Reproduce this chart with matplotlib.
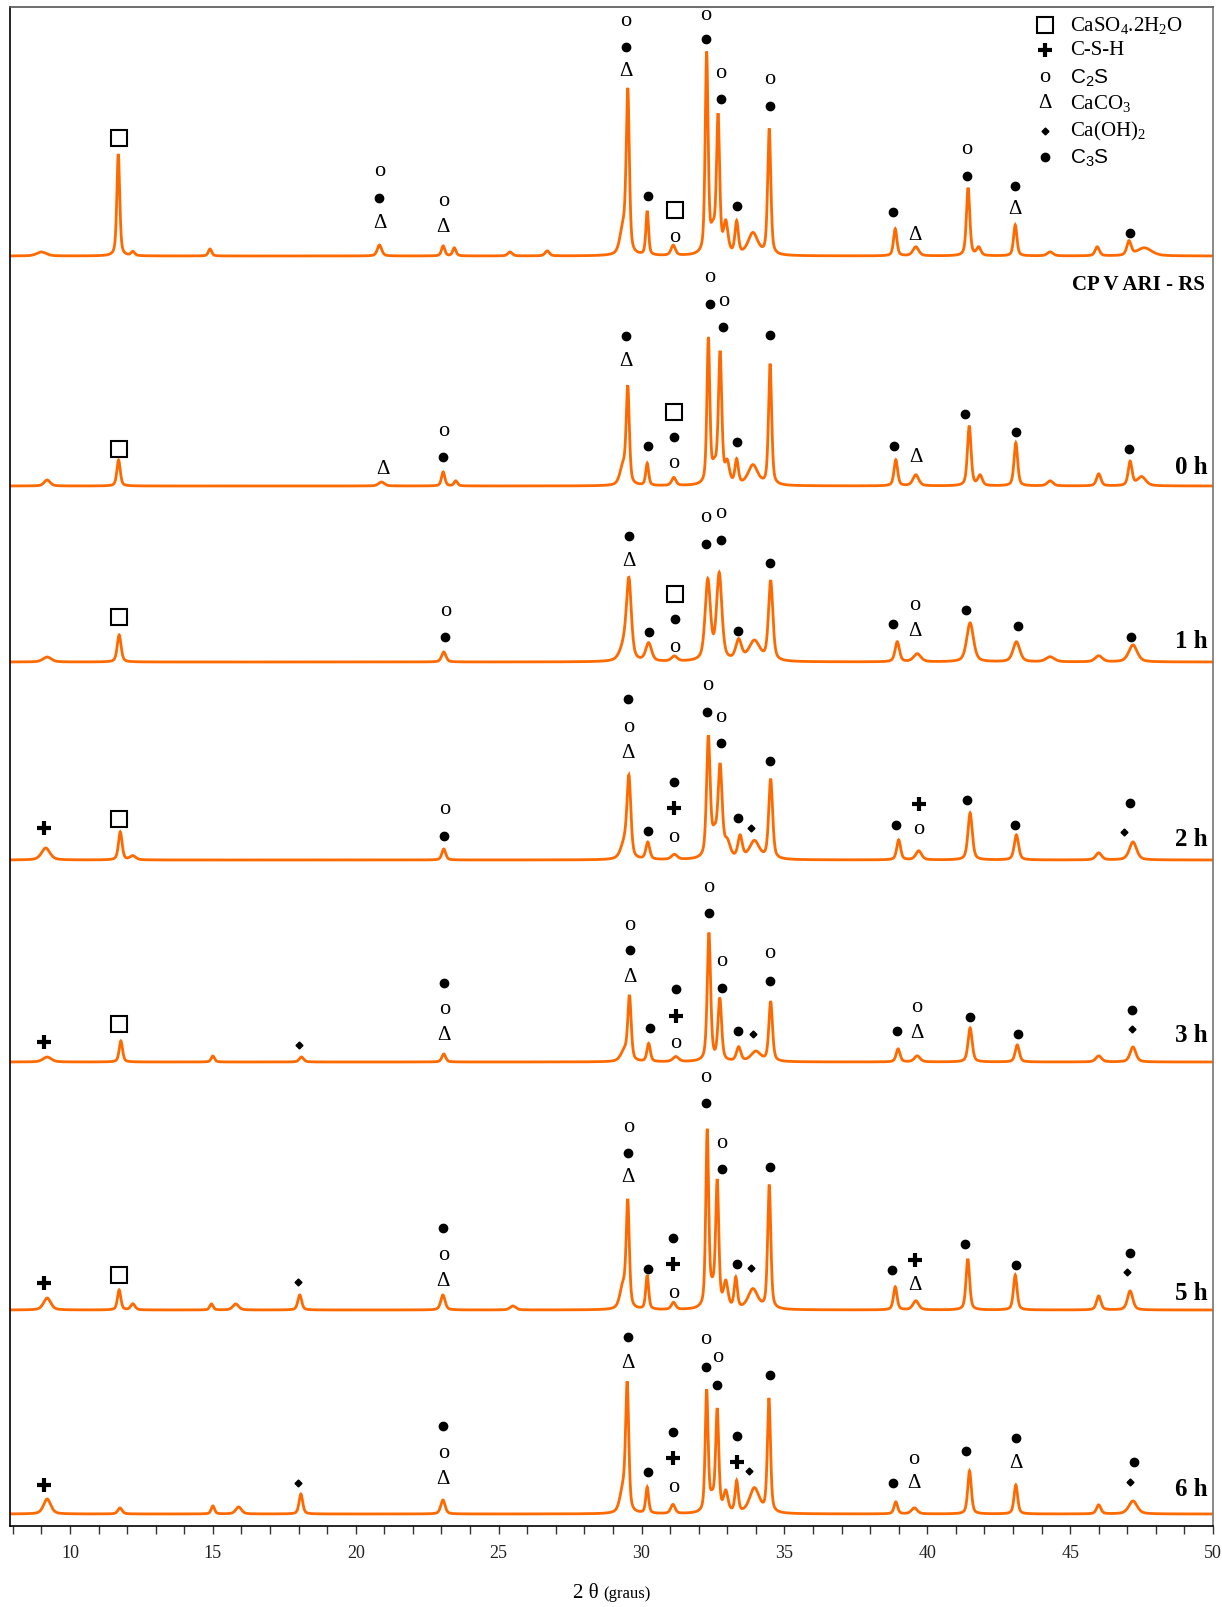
import numpy as np
import matplotlib
matplotlib.use("Agg")
import matplotlib.pyplot as plt

plt.rcParams['mathtext.fontset'] = 'custom'
plt.rcParams['mathtext.rm'] = 'Liberation Serif'
plt.rcParams['mathtext.it'] = 'Liberation Serif:italic'
plt.rcParams['mathtext.bf'] = 'Liberation Serif:bold'
plt.rcParams['mathtext.sf'] = 'Liberation Sans'

SERIF = 'Liberation Serif'
SANS = 'Liberation Sans'

# ---------------- data ----------------
# stacked pattern labels (top to bottom) and vertical offsets (a.u.)
trace_labels = ["CP V ARI - RS", "0 h", "1 h", "2 h", "3 h", "5 h", "6 h"]
offsets = [1270, 1040, 864, 666, 464, 216, 12]

# peaks: (2theta, height a.u., FWHM deg)
peaks_ref = [(9.0, 4, 0.4), (11.69, 102, 0.12), (12.2, 4, 0.15), (14.9, 7, 0.14),
             (20.83, 11, 0.18), (23.06, 10, 0.14), (23.45, 8, 0.14), (25.4, 4, 0.18),
             (26.7, 5, 0.18), (29.35, 25, 0.25), (29.52, 160, 0.13), (30.2, 44, 0.11),
             (31.11, 10, 0.18), (32.28, 200, 0.12), (32.5, 20, 0.2), (32.68, 135, 0.13),
             (32.95, 30, 0.18), (33.33, 32, 0.14), (33.9, 22, 0.4), (34.47, 126, 0.13),
             (38.88, 27, 0.14), (39.6, 9, 0.24), (41.43, 68, 0.14), (41.8, 8, 0.18),
             (43.08, 31, 0.14), (44.3, 4, 0.24), (45.95, 9, 0.18), (47.06, 14, 0.18),
             (47.6, 8, 0.6)]
peaks_0h = [(9.2, 6, 0.25), (11.7, 26, 0.14), (20.9, 4, 0.24), (23.06, 14, 0.14),
            (23.5, 5, 0.14), (29.35, 18, 0.25), (29.52, 95, 0.13), (30.2, 22, 0.12),
            (31.13, 8, 0.18), (32.34, 145, 0.12), (32.55, 15, 0.2), (32.75, 130, 0.14),
            (33.0, 20, 0.18), (33.33, 24, 0.14), (33.9, 20, 0.4), (34.5, 121, 0.13),
            (38.9, 26, 0.15), (39.6, 11, 0.24), (41.47, 60, 0.15), (41.85, 10, 0.18),
            (43.1, 43, 0.15), (44.3, 5, 0.24), (46.0, 12, 0.18), (47.1, 24, 0.16),
            (47.5, 9, 0.35)]
peaks_1h = [(9.2, 5, 0.35), (11.72, 27, 0.16), (23.08, 10, 0.18), (29.4, 15, 0.35),
            (29.56, 76, 0.2), (30.25, 18, 0.24), (31.15, 5, 0.24), (32.32, 80, 0.22),
            (32.72, 86, 0.22), (33.4, 20, 0.24), (33.95, 20, 0.45), (34.52, 80, 0.18),
            (38.95, 20, 0.18), (39.65, 8, 0.3), (41.5, 39, 0.28), (43.12, 20, 0.28),
            (44.3, 5, 0.35), (46.0, 6, 0.3), (47.2, 17, 0.35)]
peaks_2h = [(9.15, 12, 0.35), (11.76, 28, 0.15), (12.2, 4, 0.24), (23.08, 11, 0.16),
            (29.4, 15, 0.3), (29.56, 78, 0.16), (30.22, 17, 0.16), (31.15, 5, 0.24),
            (32.34, 120, 0.15), (32.55, 20, 0.2), (32.75, 90, 0.17), (33.0, 15, 0.24),
            (33.45, 22, 0.18), (33.95, 18, 0.4), (34.52, 80, 0.16), (39.0, 20, 0.16),
            (39.7, 9, 0.24), (41.5, 47, 0.18), (43.12, 25, 0.18), (46.0, 7, 0.24),
            (47.2, 18, 0.3)]
peaks_3h = [(9.2, 5, 0.35), (11.78, 21, 0.14), (15.0, 6, 0.14), (18.1, 5, 0.18),
            (23.08, 8, 0.16), (29.4, 10, 0.3), (29.58, 63, 0.14), (30.25, 18, 0.14),
            (31.2, 5, 0.24), (32.36, 128, 0.14), (32.74, 62, 0.15), (33.4, 14, 0.18),
            (34.0, 10, 0.4), (34.52, 60, 0.15), (38.98, 13, 0.16), (39.65, 6, 0.24),
            (41.5, 34, 0.17), (43.15, 17, 0.17), (46.0, 6, 0.24), (47.2, 15, 0.24)]
peaks_5h = [(9.2, 12, 0.3), (11.72, 20, 0.14), (12.2, 6, 0.18), (14.95, 6, 0.14),
            (15.8, 6, 0.24), (18.04, 15, 0.16), (23.05, 15, 0.18), (25.5, 4, 0.24),
            (29.35, 22, 0.25), (29.52, 104, 0.13), (30.2, 34, 0.12), (31.12, 7, 0.18),
            (32.3, 176, 0.12), (32.48, 15, 0.2), (32.65, 124, 0.13), (32.95, 25, 0.18),
            (33.3, 30, 0.13), (33.9, 20, 0.4), (34.47, 124, 0.13), (38.88, 23, 0.15),
            (39.6, 9, 0.24), (41.42, 51, 0.15), (43.08, 35, 0.15), (46.0, 14, 0.18),
            (47.1, 19, 0.22)]
peaks_6h = [(9.2, 15, 0.3), (11.75, 6, 0.18), (15.0, 8, 0.14), (15.9, 7, 0.24),
            (18.08, 20, 0.15), (23.05, 14, 0.18), (29.35, 22, 0.25), (29.5, 124, 0.13),
            (30.2, 26, 0.12), (31.1, 9, 0.18), (32.28, 121, 0.12), (32.47, 12, 0.2),
            (32.65, 101, 0.13), (32.95, 20, 0.18), (33.33, 31, 0.13), (33.95, 25, 0.4),
            (34.46, 114, 0.13), (38.9, 12, 0.15), (39.55, 6, 0.24), (41.48, 43, 0.15),
            (43.1, 29, 0.15), (46.0, 9, 0.18), (47.2, 13, 0.35)]
all_peaks = [peaks_ref, peaks_0h, peaks_1h, peaks_2h, peaks_3h, peaks_5h, peaks_6h]

# phase marks: (2theta, y a.u., symbol)
# sq=CaSO4.2H2O, plus=C-S-H, o=C2S, tri=CaCO3, dia=Ca(OH)2, dot=C3S
marks_ref = [(11.7, 1388, 'sq'), (20.83, 1354, 'o'), (20.83, 1328, 'dot'), (20.83, 1302, 'tri'),
             (23.06, 1324, 'o'), (23.06, 1298, 'tri'),
             (29.46, 1505, 'o'), (29.46, 1479, 'dot'), (29.46, 1454, 'tri'),
             (30.22, 1330, 'dot'), (31.17, 1316, 'sq'), (31.17, 1289, 'o'),
             (32.25, 1511, 'o'), (32.25, 1487, 'dot'), (32.78, 1453, 'o'), (32.78, 1427, 'dot'),
             (33.33, 1320, 'dot'), (34.5, 1446, 'o'), (34.5, 1420, 'dot'),
             (38.8, 1314, 'dot'), (39.56, 1290, 'tri'), (41.39, 1376, 'o'), (41.39, 1350, 'dot'),
             (43.08, 1340, 'dot'), (43.08, 1316, 'tri'), (47.09, 1293, 'dot')]
marks_0h = [(11.7, 1077, 'sq'), (20.94, 1057, 'tri'), (23.06, 1094, 'o'), (23.06, 1069, 'dot'),
            (29.46, 1190, 'dot'), (29.46, 1164, 'tri'), (30.22, 1080, 'dot'),
            (31.13, 1114, 'sq'), (31.13, 1089, 'dot'), (31.13, 1063, 'o'),
            (32.38, 1248, 'o'), (32.38, 1222, 'dot'), (32.86, 1224, 'o'), (32.85, 1199, 'dot'),
            (33.33, 1084, 'dot'), (34.51, 1191, 'dot'), (38.84, 1080, 'dot'), (39.6, 1069, 'tri'),
            (41.32, 1112, 'dot'), (43.1, 1094, 'dot'), (47.06, 1077, 'dot')]
marks_1h = [(11.7, 909, 'sq'), (23.13, 915, 'o'), (23.13, 889, 'dot'),
            (29.55, 990, 'dot'), (29.55, 964, 'tri'), (30.27, 894, 'dot'),
            (31.17, 932, 'sq'), (31.17, 907, 'dot'), (31.17, 879, 'o'),
            (32.26, 1008, 'o'), (32.26, 982, 'dot'), (32.78, 1013, 'o'), (32.78, 986, 'dot'),
            (33.39, 895, 'dot'), (34.51, 963, 'dot'), (38.8, 902, 'dot'),
            (39.56, 920, 'o'), (39.56, 895, 'tri'), (41.35, 916, 'dot'), (43.18, 900, 'dot'),
            (47.13, 889, 'dot')]
marks_2h = [(9.1, 698, 'plus'), (11.7, 707, 'sq'), (23.1, 717, 'o'), (23.1, 690, 'dot'),
            (29.54, 827, 'dot'), (29.54, 799, 'o'), (29.54, 773, 'tri'), (30.23, 695, 'dot'),
            (31.13, 744, 'dot'), (31.13, 718, 'plus'), (31.13, 689, 'o'),
            (32.3, 840, 'o'), (32.3, 814, 'dot'), (32.78, 809, 'o'), (32.78, 783, 'dot'),
            (33.39, 708, 'dot'), (33.82, 698, 'dia'), (34.5, 765, 'dot'),
            (38.92, 701, 'dot'), (39.7, 722, 'plus'), (39.7, 696, 'o'), (41.39, 726, 'dot'),
            (43.08, 701, 'dot'), (46.9, 694, 'dia'), (47.09, 723, 'dot')]
marks_3h = [(9.1, 484, 'plus'), (11.7, 502, 'sq'), (18.0, 481, 'dia'),
            (23.1, 543, 'dot'), (23.1, 516, 'o'), (23.1, 490, 'tri'),
            (29.6, 601, 'o'), (29.6, 576, 'dot'), (29.6, 549, 'tri'), (30.3, 498, 'dot'),
            (31.2, 537, 'dot'), (31.2, 510, 'plus'), (31.2, 483, 'o'),
            (32.36, 639, 'o'), (32.36, 613, 'dot'), (32.8, 564, 'o'), (32.8, 538, 'dot'),
            (33.39, 495, 'dot'), (33.91, 492, 'dia'), (34.5, 572, 'o'), (34.5, 545, 'dot'),
            (38.95, 495, 'dot'), (39.63, 518, 'o'), (39.63, 492, 'tri'), (41.5, 509, 'dot'),
            (43.18, 492, 'dot'), (47.17, 516, 'dot'), (47.17, 497, 'dia')]
marks_5h = [(9.1, 243, 'plus'), (11.7, 251, 'sq'), (17.97, 244, 'dia'),
            (23.06, 298, 'dot'), (23.06, 271, 'o'), (23.06, 245, 'tri'),
            (29.54, 399, 'o'), (29.54, 373, 'dot'), (29.54, 348, 'tri'), (30.22, 257, 'dot'),
            (31.11, 288, 'dot'), (31.11, 262, 'plus'), (31.11, 233, 'o'),
            (32.26, 449, 'o'), (32.26, 423, 'dot'), (32.8, 382, 'o'), (32.8, 357, 'dot'),
            (33.33, 262, 'dot'), (33.82, 258, 'dia'), (34.5, 359, 'dot'),
            (38.77, 256, 'dot'), (39.56, 266, 'plus'), (39.56, 240, 'tri'), (41.32, 282, 'dot'),
            (43.1, 261, 'dot'), (46.99, 254, 'dia'), (47.09, 273, 'dot')]
marks_6h = [(9.1, 41, 'plus'), (17.97, 43, 'dia'),
            (23.06, 100, 'dot'), (23.06, 72, 'o'), (23.06, 47, 'tri'),
            (29.52, 189, 'dot'), (29.52, 163, 'tri'), (30.23, 54, 'dot'),
            (31.11, 94, 'dot'), (31.11, 68, 'plus'), (31.11, 39, 'o'),
            (32.25, 186, 'o'), (32.25, 159, 'dot'), (32.67, 168, 'o'), (32.63, 141, 'dot'),
            (33.33, 90, 'dot'), (33.33, 64, 'plus'), (33.76, 55, 'dia'), (34.5, 151, 'dot'),
            (38.8, 43, 'dot'), (39.52, 66, 'o'), (39.52, 42, 'tri'), (41.35, 75, 'dot'),
            (43.1, 88, 'dot'), (43.1, 62, 'tri'), (47.09, 44, 'dia'), (47.24, 64, 'dot')]
all_marks = [marks_ref, marks_0h, marks_1h, marks_2h, marks_3h, marks_5h, marks_6h]

# label heights (a.u.)
label_y = [1241, 1058, 885, 686, 490, 233, 36]

legend_symbols = ['sq', 'plus', 'o', 'tri', 'dia', 'dot']
legend_texts = ['CaSO$_\\mathrm{4}$.2H$_\\mathrm{2}$O', 'C-S-H', 'C$_\\mathsf{2}$S',
                'CaCO$_\\mathrm{3}$', 'Ca(OH)$_\\mathrm{2}$', 'C$_\\mathsf{3}$S']
legend_fonts = [SERIF, SERIF, SANS, SERIF, SERIF, SANS]

x_min, x_max = 7.9, 50.0
major_ticks = [10, 15, 20, 25, 30, 35, 40, 45, 50]

# ---------------- figure ----------------
W, H = 1222, 1607
fig = plt.figure(figsize=(W / 100, H / 100), dpi=100)
ax = fig.add_axes([10 / W, 1 - 1526 / H, (1213 - 10) / W, (1526 - 7) / H])

two_theta = np.arange(x_min, x_max + 0.001, 0.01)
ORANGE = '#FF6A00'


def pattern(peaks, base):
    y = np.full_like(two_theta, float(base))
    eta = 0.5
    for c, h, w in peaks:
        d = (two_theta - c) / (w / 2.0)
        lor = 1.0 / (1.0 + d ** 2)
        gau = np.exp(-np.log(2) * d ** 2)
        y += h * (eta * lor + (1 - eta) * gau)
    return y


for peaks, off in zip(all_peaks, offsets):
    ax.plot(two_theta, pattern(peaks, off), color=ORANGE, lw=2.0, solid_joinstyle='miter')


def draw_symbol(a, x, y, s, transform=None):
    kw = {}
    if transform is not None:
        kw['transform'] = transform
    if s == 'dot':
        a.plot([x], [y], 'o', ms=6, color='black', mec='black', **kw)
    elif s == 'sq':
        a.plot([x], [y], 's', ms=11, mfc='none', mec='black', mew=1.5, **kw)
    elif s == 'plus':
        a.plot([x], [y], '+', ms=10, mew=3.0, color='black', **kw)
    elif s == 'dia':
        a.plot([x], [y], 'D', ms=3.5, color='black', **kw)
    elif s == 'o':
        a.text(x, y, 'o', family=SERIF, fontsize=16, ha='center', va='center', color='black', **kw)
    elif s == 'tri':
        a.text(x, y, '\u0394', family=SERIF, fontsize=15, ha='center', va='center', color='black', **kw)


for marks in all_marks:
    for x, y, s in marks:
        draw_symbol(ax, x, y, s)

for i, (lab, ly) in enumerate(zip(trace_labels, label_y)):
    if i == 0:
        ax.text(49.72, ly, lab, family=SERIF, fontsize=15, fontweight='bold', ha='right', va='center')
    else:
        ax.text(49.8, ly, lab, family=SERIF, fontsize=18, fontweight='bold', ha='right', va='center')

# legend (manual)
leg_y = [25, 50, 77, 104, 131, 157]
for s, t, f, yy in zip(legend_symbols, legend_texts, legend_fonts, leg_y):
    fy = 1 - yy / H
    p_sym = ax.transAxes.inverted().transform(fig.transFigure.transform((1045 / W, fy)))
    draw_symbol(ax, p_sym[0], p_sym[1], s, transform=ax.transAxes)
    p_txt = ax.transAxes.inverted().transform(fig.transFigure.transform((1070 / W, fy)))
    ax.text(p_txt[0], p_txt[1], t, family=f, fontsize=15, ha='left', va='center', transform=ax.transAxes)

ax.set_xlim(x_min, x_max)
ax.set_ylim(0, 1519)
ax.set_yticks([])
ax.set_xticks(major_ticks)
ax.set_xticks(np.arange(8, 51, 1), minor=True)
ax.tick_params(axis='x', which='both', direction='out', length=6, width=1, color='#333333',
               labelsize=13, labelcolor='#222222', pad=8)
for lab in ax.get_xticklabels():
    lab.set_family(SERIF)
ax.spines['left'].set_color('black')
ax.spines['bottom'].set_color('black')
ax.spines['right'].set_color('#777777')
ax.spines['top'].set_color('#555555')
for sp in ax.spines.values():
    sp.set_linewidth(1.2)

fig.text(599 / W, 1 - 1598 / H, '2 \u03b8', family=SERIF, fontsize=15, ha='right', va='baseline')
fig.text(603 / W, 1 - 1598 / H, '(graus)', family=SERIF, fontsize=12, ha='left', va='baseline')

fig.savefig('out.png', dpi=100)
